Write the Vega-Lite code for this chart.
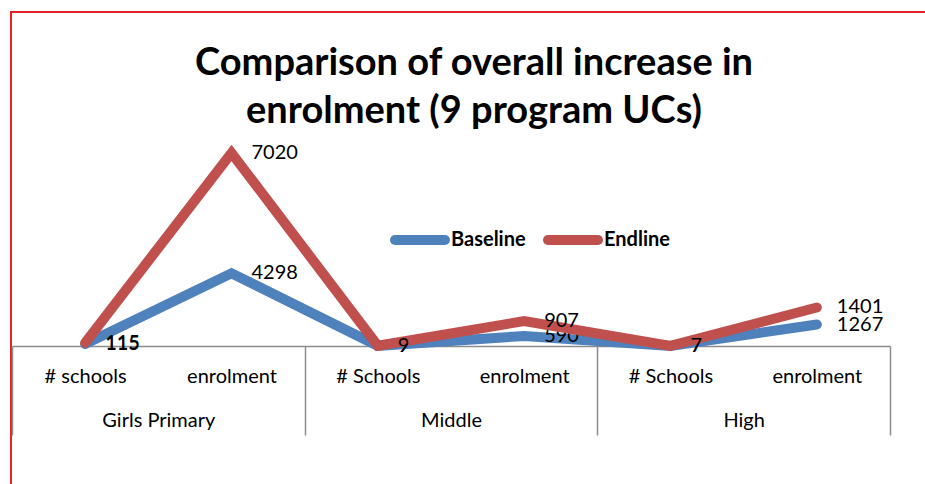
{
  "$schema": "https://vega.github.io/schema/vega-lite/v6.json",
  "width": 920,
  "height": 480,
  "autosize": "none",
  "padding": {"left": 11, "top": 12, "right": 0, "bottom": 0},
  "title": {
    "text": ["Comparison of overall increase in", "enrolment (9 program UCs)"],
    "font": "Lato",
    "fontSize": 38,
    "fontWeight": "bold",
    "color": "#000000",
    "lineHeight": 48,
    "anchor": "middle",
    "baseline": "top",
    "dx": 3,
    "offset": -119
  },
  "data": {
    "values": [
      {"group": "Girls Primary", "sub": "# schools", "cat": "Girls Primary|# schools", "series": "Baseline", "value": 115},
      {"group": "Girls Primary", "sub": "enrolment", "cat": "Girls Primary|enrolment", "series": "Baseline", "value": 4298},
      {"group": "Middle", "sub": "# Schools", "cat": "Middle|# Schools", "series": "Baseline", "value": 9},
      {"group": "Middle", "sub": "enrolment", "cat": "Middle|enrolment", "series": "Baseline", "value": 590},
      {"group": "High", "sub": "# Schools", "cat": "High|# Schools", "series": "Baseline", "value": 7},
      {"group": "High", "sub": "enrolment", "cat": "High|enrolment", "series": "Baseline", "value": 1267},
      {"group": "Girls Primary", "sub": "# schools", "cat": "Girls Primary|# schools", "series": "Endline", "value": 115},
      {"group": "Girls Primary", "sub": "enrolment", "cat": "Girls Primary|enrolment", "series": "Endline", "value": 7020},
      {"group": "Middle", "sub": "# Schools", "cat": "Middle|# Schools", "series": "Endline", "value": 9},
      {"group": "Middle", "sub": "enrolment", "cat": "Middle|enrolment", "series": "Endline", "value": 907},
      {"group": "High", "sub": "# Schools", "cat": "High|# Schools", "series": "Endline", "value": 7},
      {"group": "High", "sub": "enrolment", "cat": "High|enrolment", "series": "Endline", "value": 1401}
    ]
  },
  "config": {
    "view": {"stroke": "#E42127", "strokeWidth": 2},
    "font": "Lato",
    "text": {"font": "Lato"}
  },
  "layer": [
    {
      "transform": [{"filter": "datum.series === 'Baseline'"}],
      "encoding": {
        "x": {
          "field": "cat", "type": "ordinal",
          "scale": {"domain": ["Girls Primary|# schools", "Girls Primary|enrolment", "Middle|# Schools", "Middle|enrolment", "High|# Schools", "High|enrolment"], "range": [1, 879], "paddingInner": 0, "paddingOuter": 0},
          "axis": {
            "orient": "bottom", "offset": -146, "title": null,
            "labelExpr": "split(datum.label, '|')[1]",
            "labelFont": "Lato", "labelFontSize": 20, "labelColor": "#000000", "labelAngle": 0,
            "labelPadding": 20, "ticks": false, "tickSize": 0,
            "domainColor": "#8C8C8C", "domainWidth": 1.5, "grid": false
          }
        },
        "y": {"field": "value", "type": "quantitative", "scale": {"domain": [0, 13000], "range": [334, 114]}, "axis": null},
        "color": {
          "field": "series", "type": "nominal",
          "scale": {"domain": ["Baseline", "Endline"], "range": ["#4F81BD", "#C0504D"]},
          "legend": {
            "orient": "none", "legendX": 379, "legendY": 198, "direction": "horizontal", "title": null,
            "symbolType": "stroke", "symbolSize": 2500, "symbolStrokeWidth": 10,
            "labelFont": "Lato", "labelFontSize": 20, "labelFontWeight": "bold", "labelColor": "#000000",
            "labelOffset": 1, "columnPadding": 2,
            "encode": {"symbols": {"update": {"strokeCap": {"value": "round"}}}}
          }
        }
      },
      "layer": [
        {"mark": {"type": "line", "strokeWidth": 10, "strokeCap": "round", "strokeJoin": "miter"}},
        {"mark": {"type": "text", "align": "left", "baseline": "middle", "dx": 20, "fontSize": 20, "font": "Lato"},
         "encoding": {"text": {"field": "value", "type": "quantitative"}, "color": {"value": "#000000"}}}
      ]
    },
    {
      "transform": [{"filter": "datum.series === 'Endline'"}],
      "encoding": {
        "x": {
          "field": "cat", "type": "ordinal",
          "scale": {"domain": ["Girls Primary|# schools", "Girls Primary|enrolment", "Middle|# Schools", "Middle|enrolment", "High|# Schools", "High|enrolment"], "range": [1, 879], "paddingInner": 0, "paddingOuter": 0},
          "axis": null
        },
        "y": {"field": "value", "type": "quantitative", "scale": {"domain": [0, 8000], "range": [334, 114]}, "axis": null},
        "color": {"field": "series", "type": "nominal"}
      },
      "layer": [
        {"mark": {"type": "line", "strokeWidth": 10, "strokeCap": "round", "strokeJoin": "miter"}},
        {"mark": {"type": "text", "align": "left", "baseline": "middle", "dx": 20, "fontSize": 20, "font": "Lato"},
         "encoding": {"text": {"field": "value", "type": "quantitative"}, "color": {"value": "#000000"}}}
      ]
    },
    {
      "transform": [{"filter": "datum.series === 'Baseline'"}],
      "mark": {"type": "tick", "opacity": 0},
      "encoding": {
        "x": {
          "field": "group", "type": "nominal",
          "scale": {"domain": ["Girls Primary", "Middle", "High"], "range": [1, 879], "paddingInner": 0, "paddingOuter": 0},
          "axis": {
            "orient": "bottom", "offset": -146, "title": null,
            "labelFont": "Lato", "labelFontSize": 20, "labelColor": "#000000", "labelAngle": 0,
            "labelPadding": -25, "ticks": true, "tickSize": 89, "tickBand": "extent",
            "tickColor": "#8C8C8C", "tickWidth": 1.5, "domain": false, "grid": false
          }
        }
      }
    }
  ],
  "resolve": {"scale": {"x": "independent", "y": "independent"}, "axis": {"x": "independent"}}
}
